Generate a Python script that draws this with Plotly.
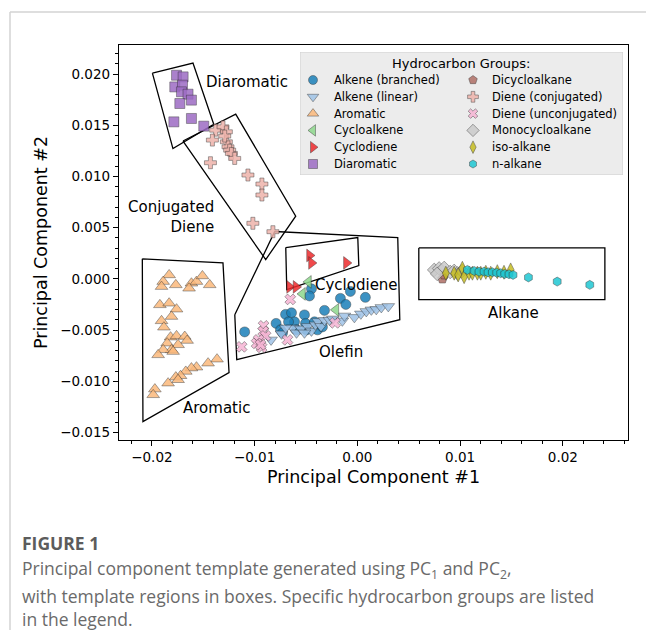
import plotly.graph_objects as go

# ---------------- PCA scores (PC1, PC2) per hydrocarbon group ----------------
alkene_branched_pc1 = [-0.01097, -0.00791, -0.00748, -0.00699, -0.00641, -0.00612, -0.00592, -0.00515,
                       -0.00505, -0.00495, -0.00447, -0.00466, -0.00417, -0.00388, -0.00340, -0.00320,
                       -0.00165, -0.00112, -0.00068, 0.00078, -0.00728, -0.00670]
alkene_branched_pc2 = [-0.00517, -0.00434, -0.00497, -0.00346, -0.00331, -0.00419, -0.00497, -0.00351,
                       -0.00434, -0.00497, -0.00097, -0.00166, -0.00419, -0.00497, -0.00468, -0.00307,
                       -0.00190, -0.00249, -0.00122, -0.00180, -0.00526, -0.00419]

alkene_linear_pc1 = [-0.00840, -0.00738, -0.00631, -0.00592, -0.00549, -0.00485, -0.00447, -0.00408,
                     -0.00383, -0.00354, -0.00320, -0.00272, -0.00238, -0.00146, -0.00126, -0.00029,
                     0.00034, 0.00087, 0.00136, 0.00184, 0.00233, 0.00301, -0.00699, -0.00515]
alkene_linear_pc2 = [-0.00595, -0.00536, -0.00478, -0.00526, -0.00487, -0.00463, -0.00507, -0.00448,
                     -0.00414, -0.00463, -0.00404, -0.00400, -0.00390, -0.00409, -0.00361, -0.00375,
                     -0.00341, -0.00317, -0.00302, -0.00297, -0.00278, -0.00268, -0.00478, -0.00526]

aromatic_pc1 = [-0.01832, -0.01890, -0.01906, -0.01767, -0.01615, -0.01566, -0.01508, -0.01437, -0.01638,
                -0.01922, -0.01832, -0.01760, -0.01809, -0.01906, -0.01883, -0.01818, -0.01760, -0.01680,
                -0.01657, -0.01745, -0.01851, -0.01809, -0.01890, -0.01939, -0.01793, -0.01366, -0.01453,
                -0.01566, -0.01615, -0.01670, -0.01721, -0.01767, -0.01842, -0.01971, -0.01987, -0.01745]
aromatic_pc2 = [0.00039, -0.00026, -0.00075, -0.00058, -0.00042, -0.00026, 0.00029, -0.00058, -0.00091,
                -0.00253, -0.00237, -0.00295, -0.00367, -0.00409, -0.00471, -0.00568, -0.00556, -0.00562,
                -0.00601, -0.00643, -0.00627, -0.00692, -0.00692, -0.00741, -0.00709, -0.00783, -0.00822,
                -0.00861, -0.00870, -0.00903, -0.00945, -0.00958, -0.01017, -0.01075, -0.01131, -0.00984]

cycloalkene_pc1 = [-0.00476, -0.00534, -0.00209]
cycloalkene_pc2 = [-0.00029, -0.00146, -0.00302]

cyclodiene_pc1 = [-0.00466, -0.00447, -0.00107, -0.00660, -0.00597]
cyclodiene_pc2 = [0.00229, 0.00156, 0.00156, -0.00078, -0.00078]

diaromatic_pc1 = [-0.01760, -0.01696, -0.01777, -0.01702, -0.01712, -0.01648, -0.01615, -0.01728,
                  -0.01786, -0.01615, -0.01495]
diaromatic_pc2 = [0.01988, 0.01972, 0.01874, 0.01891, 0.01826, 0.01803, 0.01745, 0.01712,
                  0.01533, 0.01566, 0.01491]

dicycloalkane_pc1 = [0.00828, 0.00845]
dicycloalkane_pc2 = [0.00000, 0.00039]

diene_conj_pc1 = [-0.01379, -0.01308, -0.01275, -0.01411, -0.01275, -0.01259, -0.01243, -0.01226,
                  -0.01194, -0.01430, -0.01065, -0.00929, -0.00929, -0.01017, -0.00822, -0.01291]
diene_conj_pc2 = [0.01452, 0.01484, 0.01436, 0.01355, 0.01338, 0.01289, 0.01257, 0.01225,
                  0.01176, 0.01134, 0.01014, 0.00926, 0.00819, 0.00543, 0.00461, 0.01394]

diene_unconj_pc1 = [-0.00653, -0.00913, -0.00917, -0.00893, -0.00961, -0.00981, -0.00932, -0.01126,
                    -0.00680, -0.00218, -0.00942]
diene_unconj_pc2 = [-0.00200, -0.00458, -0.00512, -0.00556, -0.00595, -0.00629, -0.00668, -0.00663,
                    -0.00595, -0.00429, -0.00643]

monocycloalkane_pc1 = [0.00748, 0.00796, 0.00845, 0.00903, 0.00942, 0.00976, 0.01019, 0.00777]
monocycloalkane_pc2 = [0.00088, 0.00102, 0.00107, 0.00068, 0.00078, 0.00054, 0.00078, 0.00049]

iso_alkane_pc1 = [0.00861, 0.00942, 0.01022, 0.01039, 0.01087, 0.01120, 0.01168, 0.01201, 0.01250,
                  0.01298, 0.01362, 0.01427, 0.01492, 0.00981]
iso_alkane_pc2 = [0.00056, 0.00056, 0.00104, 0.00022, 0.00056, 0.00056, 0.00056, 0.00056, 0.00065,
                  0.00056, 0.00071, 0.00065, 0.00088, 0.00039]

n_alkane_pc1 = [0.01071, 0.01136, 0.01184, 0.01233, 0.01272, 0.01314, 0.01356, 0.01395, 0.01434,
                0.01476, 0.01515, 0.01665, 0.01945, 0.02262]
n_alkane_pc2 = [0.00088, 0.00078, 0.00071, 0.00071, 0.00065, 0.00065, 0.00061, 0.00056, 0.00049,
                0.00046, 0.00039, 0.00015, -0.00026, -0.00058]

# ---------------- template regions (polygon vertices in PC space) ----------------
diaromatic_region_pc1 = [-0.01995, -0.01600, -0.01398, -0.01795]
diaromatic_region_pc2 = [0.02009, 0.02107, 0.01510, 0.01272]
diene_region_pc1 = [-0.01697, -0.01184, -0.00600, -0.00892]
diene_region_pc2 = [0.01346, 0.01608, 0.00613, 0.00189]
aromatic_region_pc1 = [-0.02093, -0.01308, -0.01249, -0.02087]
aromatic_region_pc2 = [0.00196, 0.00157, -0.00914, -0.01393]
olefin_region_pc1 = [-0.01193, -0.00804, 0.00393, 0.00413, -0.01174]
olefin_region_pc2 = [-0.00349, 0.00463, 0.00404, -0.00398, -0.00788]
cyclodiene_region_pc1 = [-0.00697, 0.00004, 0.00014, -0.00687]
cyclodiene_region_pc2 = [0.00306, 0.00404, 0.00130, -0.00105]
alkane_region_pc1 = [0.00598, 0.02409, 0.02409, 0.00598]
alkane_region_pc2 = [0.00303, 0.00303, -0.00202, -0.00202]

region_labels = ["Diaromatic", "Conjugated<br>Diene", "Aromatic", "Olefin", "Cyclodiene", "Alkane"]
region_label_pc1 = [-0.01071, -0.01373, -0.01373, -0.00156, -0.00010, 0.01519]
region_label_pc2 = [0.01920, 0.00608, -0.01259, -0.00717, -0.00056, -0.00330]

x_tick_values = [-0.02, -0.01, 0.00, 0.01, 0.02]
y_tick_values = [-0.015, -0.010, -0.005, 0.000, 0.005, 0.010, 0.015, 0.020]

# ---------------- styling ----------------
groups = [
    ("Alkene (branched)", alkene_branched_pc1, alkene_branched_pc2, "circle", "#1b80b9", 10),
    ("Alkene (linear)", alkene_linear_pc1, alkene_linear_pc2, "triangle-down", "#9fc3e7", 11),
    ("Aromatic", aromatic_pc1, aromatic_pc2, "triangle-up", "#fbb97c", 11),
    ("Cycloalkene", cycloalkene_pc1, cycloalkene_pc2, "triangle-left", "#8ed88c", 11),
    ("Cyclodiene", cyclodiene_pc1, cyclodiene_pc2, "triangle-right", "#ee2a2c", 11),
    ("Diaromatic", diaromatic_pc1, diaromatic_pc2, "square", "#9d6cc4", 10),
    ("Dicycloalkane", dicycloalkane_pc1, dicycloalkane_pc2, "pentagon", "#b06f66", 10),
    ("Diene (conjugated)", diene_conj_pc1, diene_conj_pc2, "cross", "#eeb3ab", 10),
    ("Diene (unconjugated)", diene_unconj_pc1, diene_unconj_pc2, "x", "#f6b4d4", 9.5),
    ("Monocycloalkane", monocycloalkane_pc1, monocycloalkane_pc2, "diamond", "#cbcbcb", 10.5),
    ("iso-alkane", iso_alkane_pc1, iso_alkane_pc2, "diamond-tall", "#c6bd22", 10),
    ("n-alkane", n_alkane_pc1, n_alkane_pc2, "hexagon", "#1fc7d3", 9),
]
regions = [
    (diaromatic_region_pc1, diaromatic_region_pc2),
    (diene_region_pc1, diene_region_pc2),
    (aromatic_region_pc1, aromatic_region_pc2),
    (olefin_region_pc1, olefin_region_pc2),
    (cyclodiene_region_pc1, cyclodiene_region_pc2),
    (alkane_region_pc1, alkane_region_pc2),
]

FONT = "DejaVu Sans"
EDGE = dict(color="rgba(40,40,40,0.6)", width=0.8)

fig = go.Figure()

# region outlines
for px_, py_ in regions:
    fig.add_trace(go.Scatter(x=px_ + px_[:1], y=py_ + py_[:1], mode="lines",
                             line=dict(color="black", width=1.3), hoverinfo="skip",
                             showlegend=False))

# scores
for name, xs, ys, sym, col, size in groups:
    fig.add_trace(go.Scatter(x=xs, y=ys, mode="markers", name=name, showlegend=False,
                             marker=dict(symbol=sym, color=col, size=size, opacity=0.85, line=EDGE)))

# region labels
for txt, lx, ly in zip(region_labels, region_label_pc1, region_label_pc2):
    right = "<br>" in txt
    fig.add_annotation(x=lx, y=ly, xref="x", yref="y", text=txt, showarrow=False,
                       xanchor="right" if right else "center", align="right" if right else "center",
                       font=dict(family=FONT, size=15, color="black"))

# ---------------- legend panel (own helper axes, units = px inside the panel) ----------------
LEG_W, LEG_H = 323, 123
fig.add_trace(go.Scatter(x=[0, LEG_W, LEG_W, 0, 0], y=[0, 0, LEG_H, LEG_H, 0], mode="lines",
                         fill="toself", fillcolor="#ececec", line=dict(color="#cfcfcf", width=1),
                         xaxis="x2", yaxis="y2", hoverinfo="skip", showlegend=False))
for i, (name, xs, ys, sym, col, size) in enumerate(groups):
    col_i, row_i = divmod(i, 6)
    mx = 13 + 160 * col_i
    my = 28 + 16.8 * row_i
    fig.add_trace(go.Scatter(x=[mx], y=[my], mode="markers", xaxis="x2", yaxis="y2",
                             hoverinfo="skip", showlegend=False,
                             marker=dict(symbol=sym, color=col, size=size - 1, opacity=0.85, line=EDGE)))
    fig.add_annotation(x=mx + 19 - 2 * col_i, y=my, xref="x2", yref="y2", text=name, showarrow=False,
                       xanchor="left", yanchor="middle", font=dict(family=FONT, size=11.5, color="black"))
fig.add_annotation(x=LEG_W / 2, y=12, xref="x2", yref="y2", text="Hydrocarbon Groups:",
                   showarrow=False, xanchor="center", yanchor="middle",
                   font=dict(family=FONT, size=13, color="black"))

# ---------------- page decorations and caption ----------------
W, H = 646, 630
ML, MR, MT, MB = 119, 18, 45, 190
PW, PH = W - ML - MR, H - MT - MB


def px_to_paper(xp, yp):
    return (xp - ML) / PW, (H - MB - yp) / PH


x0p, y0p = px_to_paper(10, 12)
x1p, y1p = px_to_paper(646, 630)
fig.add_shape(type="line", xref="paper", yref="paper", x0=x0p, y0=y0p, x1=x1p, y1=y0p,
              line=dict(color="#d3d3d3", width=1.5))
fig.add_shape(type="line", xref="paper", yref="paper", x0=x0p, y0=y0p, x1=x0p, y1=y1p,
              line=dict(color="#d3d3d3", width=1.5))

CAP_FONT = "Open Sans"
caption = [
    ("<b>FIGURE 1</b>", 543, "#5c5c5c", 17.5),
    ("Principal component template generated using PC<sub>1</sub> and PC<sub>2</sub>,", 569, "#6a6a6a", 17.5),
    ("with template regions in boxes. Specific hydrocarbon groups are listed", 596, "#6a6a6a", 17.5),
    ("in the legend.", 619, "#6a6a6a", 17.5),
]
for txt, yp, colr, fs in caption:
    cx, cy = px_to_paper(20, yp)
    fig.add_annotation(x=cx, y=cy, xref="paper", yref="paper", text=txt, showarrow=False,
                       xanchor="left", yanchor="middle", align="left",
                       font=dict(family=CAP_FONT, size=fs, color=colr))

leg_x0, leg_y0 = px_to_paper(300, 175)
leg_x1, leg_y1 = px_to_paper(623, 52)

tick_font = dict(family=FONT, size=13.5, color="black")
fig.update_layout(
    width=W, height=H, margin=dict(l=ML, r=MR, t=MT, b=MB),
    paper_bgcolor="white", plot_bgcolor="white", showlegend=False,
    xaxis=dict(range=[-0.0232, 0.02634], tickvals=x_tick_values, tickformat=".2f",
               ticks="outside", ticklen=5, tickwidth=1, tickcolor="black",
               minor=dict(dtick=0.002, tick0=0, ticks="outside", ticklen=3, tickcolor="black"),
               showline=True, linecolor="black", linewidth=1.3, mirror=True,
               showgrid=False, zeroline=False, tickfont=tick_font,
               title=dict(text="Principal Component #1", font=dict(family=FONT, size=17.5, color="black"),
                          standoff=6)),
    yaxis=dict(range=[-0.01572, 0.02283], tickvals=y_tick_values, tickformat=".3f",
               ticks="outside", ticklen=5, tickwidth=1, tickcolor="black",
               minor=dict(dtick=0.001, tick0=0, ticks="outside", ticklen=3, tickcolor="black"),
               showline=True, linecolor="black", linewidth=1.3, mirror=True,
               showgrid=False, zeroline=False, tickfont=tick_font,
               title=dict(text="Principal Component #2", font=dict(family=FONT, size=17.5, color="black"),
                          standoff=8)),
    xaxis2=dict(domain=[leg_x0, leg_x1], range=[0, LEG_W], anchor="y2", visible=False,
                fixedrange=True),
    yaxis2=dict(domain=[leg_y0, leg_y1], range=[LEG_H, 0], anchor="x2", visible=False,
                fixedrange=True),
)

fig.write_html("out.html")
